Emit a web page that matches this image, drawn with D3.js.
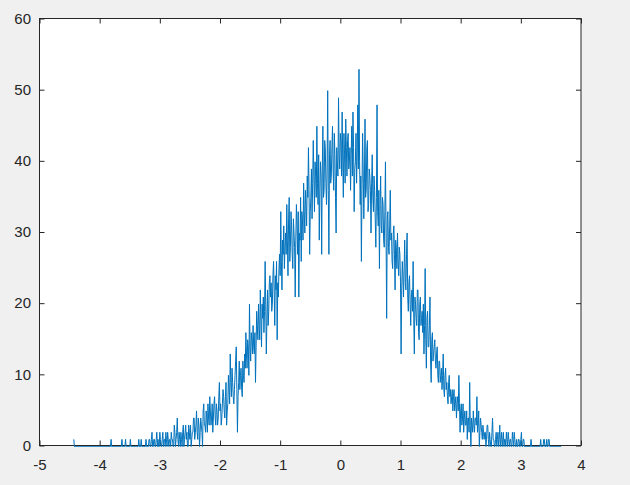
<!DOCTYPE html>
<meta charset="utf-8">
<style>

body {
  margin: 0;
  background: #f0f0f0;
}

.axis text {
  font-family: Arial, "Liberation Sans", Helvetica, sans-serif;
  font-size: 15px;
  fill: #262626;
}

.axis line {
  stroke: #262626;
}

.box {
  fill: #fff;
  stroke: #262626;
  stroke-width: 1;
}

.curve {
  fill: none;
  stroke: #0072bd;
  stroke-width: 1;
  stroke-linejoin: round;
}

</style>

<svg width="630" height="485"></svg>

<script src="https://d3js.org/d3.v7.min.js"></script>
<script>

// bins: first centre and width
var binStart = -4.43,
    binWidth = 0.01;

// counts per bin in pieces from left to right (100 bins each)
var leftTail = [1,0,0,0,0,0,0,0,0,0, 0,0,0,0,0,0,0,0,0,0, 0,0,0,0,0,0,0,0,0,0,
                0,0,0,0,0,0,0,0,0,0, 0,0,0,0,0,0,0,0,0,0, 0,0,0,0,0,0,0,0,0,0,
                0,0,1,0,0,0,0,0,0,0, 0,0,0,0,0,0,0,0,0,0, 1,0,0,0,0,0,1,0,0,0,
                0,0,0,0,1,0,0,0,0,0];
var leftFoot = [0,0,0,0,0,0,0,0,1,0, 0,0,1,0,0,0,0,0,0,0,
                1,0,0,0,0,1,1,0,0,1, 2,0,0,1,1,0,0,1,2,0,
                1,0,0,2,1,0,0,1,2,0, 1,1,0,2,1,0,2,1,0,1,
                1,0,2,1,1,0,0,3,2,0, 1,2,4,1,0,2,1,0,2,1,
                0,2,3,0,1,2,3,1,2,0, 0,3,2,1,3,0,1,2,2,4];
var leftRise = [4,1,2,3,5,2,1,4,3,0, 2,4,3,2,0,5,6,3,3,2,
                5,4,2,6,4,3,7,5,3,4, 6,2,4,6,7,4,3,6,5,3,
                4,7,9,5,6,3,4,6,8,7, 5,4,7,9,3,5,6,10,8,6,
                13,9,7,11,9,7,6,8,10,12, 14,8,2,7,9,12,8,10,11,8,
                7,12,10,9,13,11,16,13,11,15, 14,10,20,14,12,16,15,13,17,14];
var leftShoulder = [13,16,9,14,19,17,15,20,17,15, 22,18,14,20,18,21,16,19,26,20,
                    13,18,22,17,19,23,24,21,23,19, 20,24,26,22,17,24,22,26,15,23,
                    21,25,27,24,33,26,22,29,27,31, 25,28,30,27,34,29,24,32,35,26,
                    28,33,31,27,25,32,30,28,21,29, 34,31,27,33,21,30,29,35,26,33,
                    32,29,37,33,30,36,34,31,38,35, 42,36,27,33,35,39,32,37,43,38];
var peak = [33,40,38,35,45,37,34,41,29,36, 40,38,27,39,45,35,36,43,42,37,
            34,39,50,36,27,41,43,37,38,42, 45,39,36,44,41,35,30,42,40,38,
            49,41,39,44,43,38,47,40,35,44, 41,37,46,42,38,43,44,39,40,42,
            36,41,45,38,47,42,33,39,40,44, 37,41,48,39,53,40,34,38,26,36,
            44,39,32,37,46,35,36,42,43,33, 34,39,38,36,30,37,41,35,33,38];
var rightShoulder = [36,32,28,35,48,33,31,36,25,34, 38,31,30,35,34,29,28,33,40,30,
                     18,32,33,28,27,31,36,29,30,26, 25,30,31,27,22,29,28,25,30,26,
                     24,28,27,23,13,22,26,24,21,25, 29,23,22,27,30,21,19,23,24,20,
                     17,21,22,19,26,18,13,21,20,18, 17,22,22,16,15,20,21,17,18,19,
                     16,20,13,17,25,15,11,18,19,14, 14,17,21,12,9,15,16,12,13,14];
var rightFall = [15,12,11,13,14,10,9,12,12,9, 10,11,8,10,13,8,7,10,11,8,
                 9,7,6,9,10,7,8,6,7,8, 5,7,8,5,6,7,4,6,7,5,
                 10,6,2,5,6,3,4,6,2,4, 5,3,3,5,1,4,4,2,9,3,
                 0,4,3,2,5,3,2,4,4,3, 7,2,3,5,0,2,4,3,2,1,
                 3,2,1,2,2,0,1,3,3,1, 0,2,1,0,0,2,4,1,1,0];
var rightTail = [0,1,2,0,1,2,0,1,3,0, 1,2,0,1,2,0,1,1,0,2,
                 1,0,2,1,0,1,1,0,0,2, 1,0,2,1,0,0,1,0,0,1,
                 1,0,0,1,2,0,0,1,1,0, 0,0,0,0,0,0,0,0,0,0,
                 1,0,0,0,0,0,0,0,0,0, 0,0,0,0,0,0,1,0,0,0,
                 0,1,1,0,0,0,1,0,0,1, 1,0,0,0,0,0,0,0,0,0,
                 0,0,0,0,0,0,0,0,0,0, 0];

var counts = [].concat(leftTail, leftFoot, leftRise, leftShoulder,
                       peak, rightShoulder, rightFall, rightTail);

var xTicks = [-5, -4, -3, -2, -1, 0, 1, 2, 3, 4],
    yTicks = [0, 10, 20, 30, 40, 50, 60];

var svg = d3.select("svg"),
    margin = {top: 18.5, right: 49, bottom: 39.5, left: 39.5},
    width = +svg.attr("width") - margin.left - margin.right,
    height = +svg.attr("height") - margin.top - margin.bottom;

var g = svg.append("g")
    .attr("transform", "translate(" + margin.left + "," + margin.top + ")");

var x = d3.scaleLinear().domain([-5, 4]).range([0, width]);
var y = d3.scaleLinear().domain([0, 60]).range([height, 0]);

g.append("rect")
    .attr("class", "box")
    .attr("width", width)
    .attr("height", height);

// ticks point inward on all four sides, as matlab draws them
g.append("g")
    .attr("class", "axis")
    .attr("transform", "translate(0," + height + ")")
    .call(d3.axisBottom(x).tickValues(xTicks).tickFormat(d => String(d))
      .tickSizeInner(-5).tickSizeOuter(0).tickPadding(14));

g.append("g")
    .attr("class", "axis")
    .call(d3.axisLeft(y).tickValues(yTicks).tickFormat(d => String(d))
      .tickSizeInner(-5).tickSizeOuter(0).tickPadding(8.5));

g.append("g")
    .attr("class", "axis")
    .call(d3.axisTop(x).tickValues(xTicks).tickFormat("")
      .tickSizeInner(-5).tickSizeOuter(0));

g.append("g")
    .attr("class", "axis")
    .attr("transform", "translate(" + width + ",0)")
    .call(d3.axisRight(y).tickValues(yTicks).tickFormat("")
      .tickSizeInner(-5).tickSizeOuter(0));

g.selectAll(".axis .domain").remove();

var line = d3.line()
    .x((d, i) => x(binStart + i * binWidth))
    .y(d => y(d));

// matlab snaps the line a pixel below the frame, so the zero runs show blue
g.append("path")
    .datum(counts)
    .attr("class", "curve")
    .attr("transform", "translate(0,1)")
    .attr("d", line);

</script>
